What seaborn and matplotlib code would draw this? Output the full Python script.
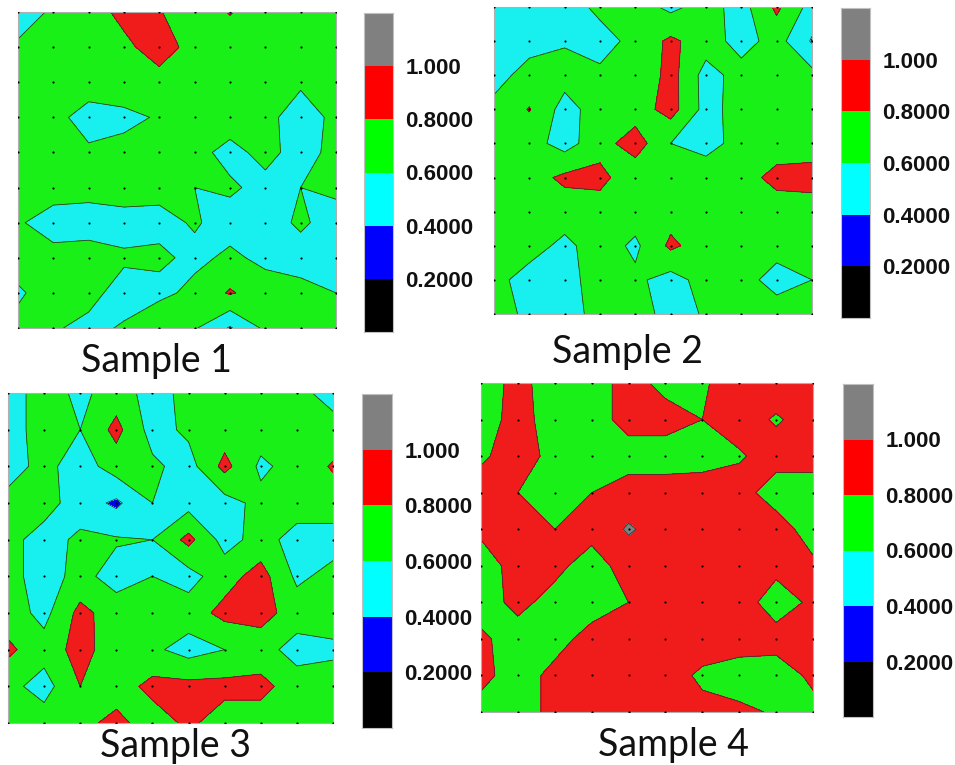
import numpy as np
import matplotlib
matplotlib.use("Agg")
import matplotlib.pyplot as plt
import seaborn as sns
from matplotlib.colors import ListedColormap

# ---------------- data (values at 10x10 measurement points, rows top->bottom) ----
sample_names = ["Sample 1", "Sample 2", "Sample 3", "Sample 4"]
levels = [0.0, 0.2, 0.4, 0.6, 0.8, 1.0, 1.2]
tick_values = [1.0, 0.8, 0.6, 0.4, 0.2]
tick_labels = ["1.000", "0.8000", "0.6000", "0.4000", "0.2000"]

sample1 = [
    [0.50, 0.63, 0.70, 0.86, 0.81, 0.70, 0.81, 0.70, 0.70, 0.70],
    [0.63, 0.70, 0.70, 0.75, 0.90, 0.72, 0.70, 0.66, 0.70, 0.70],
    [0.70, 0.70, 0.70, 0.80, 0.72, 0.70, 0.70, 0.64, 0.63, 0.66],
    [0.70, 0.66, 0.52, 0.52, 0.63, 0.70, 0.70, 0.66, 0.50, 0.65],
    [0.70, 0.68, 0.63, 0.70, 0.70, 0.66, 0.54, 0.66, 0.52, 0.66],
    [0.63, 0.68, 0.66, 0.70, 0.66, 0.60, 0.63, 0.54, 0.60, 0.64],
    [0.62, 0.52, 0.52, 0.52, 0.54, 0.62, 0.52, 0.52, 0.63, 0.52],
    [0.70, 0.66, 0.68, 0.63, 0.64, 0.55, 0.64, 0.55, 0.52, 0.50],
    [0.57, 0.70, 0.66, 0.52, 0.54, 0.66, 0.82, 0.70, 0.66, 0.60],
    [0.66, 0.62, 0.55, 0.62, 0.80, 0.62, 0.38, 0.64, 0.66, 0.66],
]
sample2 = [
    [0.50, 0.42, 0.50, 0.65, 0.70, 0.55, 0.68, 0.52, 0.84, 0.52],
    [0.50, 0.52, 0.58, 0.52, 0.66, 0.84, 0.70, 0.52, 0.68, 0.38],
    [0.52, 0.68, 0.68, 0.64, 0.60, 0.88, 0.52, 0.68, 0.70, 0.66],
    [0.66, 0.81, 0.52, 0.70, 0.70, 0.88, 0.53, 0.68, 0.70, 0.70],
    [0.70, 0.68, 0.52, 0.72, 0.90, 0.60, 0.54, 0.66, 0.70, 0.70],
    [0.70, 0.72, 0.84, 0.86, 0.66, 0.70, 0.70, 0.72, 0.86, 0.88],
    [0.70, 0.70, 0.70, 0.70, 0.70, 0.72, 0.70, 0.70, 0.70, 0.70],
    [0.70, 0.68, 0.55, 0.70, 0.56, 0.84, 0.70, 0.70, 0.68, 0.68],
    [0.66, 0.52, 0.52, 0.70, 0.64, 0.52, 0.68, 0.68, 0.52, 0.60],
    [0.64, 0.58, 0.55, 0.64, 0.70, 0.52, 0.62, 0.70, 0.70, 0.66],
]
sample3 = [
    [0.50, 0.70, 0.55, 0.70, 0.52, 0.66, 0.70, 0.70, 0.66, 0.52],
    [0.50, 0.70, 0.60, 0.86, 0.52, 0.64, 0.70, 0.70, 0.70, 0.68],
    [0.52, 0.66, 0.50, 0.70, 0.64, 0.52, 0.86, 0.56, 0.68, 0.82],
    [0.66, 0.68, 0.50, 0.36, 0.60, 0.52, 0.52, 0.66, 0.70, 0.70],
    [0.66, 0.52, 0.64, 0.62, 0.60, 0.86, 0.52, 0.68, 0.52, 0.52],
    [0.66, 0.52, 0.66, 0.52, 0.60, 0.52, 0.72, 0.88, 0.56, 0.66],
    [0.70, 0.54, 0.86, 0.70, 0.68, 0.70, 0.86, 0.88, 0.70, 0.70],
    [0.84, 0.68, 0.88, 0.68, 0.64, 0.52, 0.60, 0.68, 0.52, 0.56],
    [0.66, 0.52, 0.80, 0.70, 0.86, 0.86, 0.86, 0.86, 0.70, 0.70],
    [0.70, 0.70, 0.74, 0.86, 0.70, 0.84, 0.70, 0.70, 0.70, 0.70],
]
sample4 = [
    [0.70, 0.86, 0.70, 0.70, 0.88, 0.74, 0.78, 0.88, 0.90, 0.90],
    [0.70, 0.88, 0.70, 0.70, 0.88, 0.88, 0.80, 0.88, 0.78, 0.88],
    [0.78, 0.86, 0.76, 0.70, 0.70, 0.70, 0.72, 0.78, 0.88, 0.88],
    [0.86, 0.80, 0.70, 0.80, 0.90, 0.90, 0.90, 0.88, 0.70, 0.70],
    [0.84, 0.88, 0.80, 0.88, 1.02, 0.92, 0.92, 0.92, 0.90, 0.70],
    [0.70, 0.88, 0.86, 0.70, 0.90, 0.92, 0.92, 0.90, 0.86, 0.84],
    [0.70, 0.86, 0.72, 0.70, 0.80, 0.92, 0.92, 0.90, 0.70, 0.84],
    [0.84, 0.70, 0.72, 0.88, 0.92, 0.92, 0.92, 0.90, 0.88, 0.86],
    [0.86, 0.70, 0.86, 0.80, 0.90, 0.90, 0.76, 0.70, 0.70, 0.84],
    [0.72, 0.70, 0.86, 0.84, 0.80, 0.86, 0.86, 0.84, 0.78, 0.74],
]
samples = [sample1, sample2, sample3, sample4]

# ---------------- styling ----------------
sns.set_theme(style="white")
plt.rcParams["font.family"] = ["Liberation Sans", "DejaVu Sans"]

panel_colors = ["#000000", "#0000f0", "#18f0f0", "#18f018", "#f01c1c", "#808080"]
bar_colors = ["#000000", "#0000ff", "#00ffff", "#00ff00", "#ff0000", "#808080"]

W, H = 955, 765
fig = plt.figure(figsize=(W / 100, H / 100), dpi=100)

def fr(x0, y0, x1, y1):
    return [x0 / W, 1 - y1 / H, (x1 - x0) / W, (y1 - y0) / H]

panel_boxes = [fr(18, 12, 336, 328), fr(494, 7, 812, 314),
               fr(8, 393, 333, 723), fr(481, 383, 813, 712)]
bar_boxes = [fr(364, 13, 393, 332), fr(841, 8, 870, 318),
             fr(362, 394, 392, 728), fr(843, 384, 873, 717)]
title_pos = [(156, 372), (627, 363), (175, 757), (673, 756)]

for name, data, pbox, bbox, tpos in zip(sample_names, samples, panel_boxes, bar_boxes, title_pos):
    Z = np.array(data)
    ny, nx = Z.shape
    X, Y = np.meshgrid(np.arange(nx), np.arange(ny))
    ax = fig.add_axes(pbox)
    ax.contourf(X, Y, Z, levels=levels, colors=panel_colors)
    ax.contour(X, Y, Z, levels=levels[1:-1], colors="#303030", linewidths=0.55)
    ax.scatter(X.ravel(), Y.ravel(), s=2.5, color="black", zorder=5, linewidths=0)
    ax.set_xlim(0, nx - 1)
    ax.set_ylim(ny - 1, 0)
    ax.set_xticks([])
    ax.set_yticks([])
    for sp in ax.spines.values():
        sp.set_color("#b0b0b0")
        sp.set_linewidth(0.8)

    # colour bar drawn as a seaborn heatmap
    cax = fig.add_axes(bbox)
    blocks = np.arange(len(bar_colors))[::-1].reshape(-1, 1)
    sns.heatmap(blocks, cmap=ListedColormap(bar_colors), vmin=-0.5,
                vmax=len(bar_colors) - 0.5, cbar=False, ax=cax,
                xticklabels=False, yticklabels=False)
    cax.yaxis.tick_right()
    cax.set_yticks([levels[-1] / 0.2 - v / 0.2 for v in tick_values])
    cax.set_yticklabels(tick_labels, rotation=0, fontsize=16, fontweight="bold",
                        color="#111111")
    cax.tick_params(axis="y", length=0, pad=9, right=True, left=False,
                    labelright=True, labelleft=False)
    for sp in cax.spines.values():
        sp.set_visible(True)
        sp.set_color("#c0c0c0")
        sp.set_linewidth(0.8)

    fig.text(tpos[0] / W, 1 - tpos[1] / H, name, ha="center", va="baseline",
             fontsize=27, family=["Lato", "DejaVu Sans"], color="#111111")

fig.savefig("out.png", dpi=100, facecolor="white")
